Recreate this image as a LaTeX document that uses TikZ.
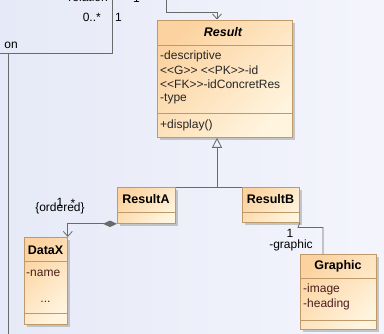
\documentclass[tikz,border=0pt]{standalone}
\usepackage{fontspec}
\setmainfont{Liberation Sans}
\usetikzlibrary{arrows.meta,shadows}
\definecolor{bgL}{HTML}{E6E9F7}
\definecolor{bgR}{HTML}{F4F5FC}
\definecolor{boxA}{HTML}{FCD3A0}
\definecolor{boxB}{HTML}{FFF4DE}
\definecolor{boxline}{HTML}{BE9A6A}
\definecolor{conn}{HTML}{6A6A6A}
\definecolor{attrc}{HTML}{4A1E1E}
\definecolor{attrr}{HTML}{262626}
\tikzset{
  cls/.style={draw=boxline, line width=0.8pt, top color=boxA, bottom color=boxB,
    shading angle=45, inner sep=0pt, anchor=north west,
    drop shadow={shadow xshift=2.5pt, shadow yshift=-2.5pt, fill=black!30, opacity=0.7}},
  sepl/.style={draw=boxline, line width=0.8pt},
  ttl/.style={font=\fontsize{12.5}{14}\selectfont\bfseries, inner sep=0pt},
  attr/.style={font=\fontsize{12}{14}\selectfont, text=attrc, inner sep=0pt, anchor=west},
  rattr/.style={font=\fontsize{12}{14}\selectfont, text=attrr, inner sep=0pt, anchor=west},
  lbl/.style={font=\fontsize{12}{14}\selectfont, inner sep=0pt},
  conline/.style={draw=conn, line width=0.8pt},
  openv/.style={-{Straight Barb[length=5pt,width=9pt]}},
}
\begin{document}
\begin{tikzpicture}[x=1pt,y=-1pt]
\useasboundingbox (0,0) rectangle (384,334);
\clip (0,0) rectangle (384,334);
\shade[left color=bgL, right color=bgR] (0,0) rectangle (384,334);

% top-left partial elements
\coordinate (tlA) at (112,-3);
\coordinate (tlB) at (112,53);
\coordinate (tlC) at (-3,53);
\coordinate (frTop) at (8,53);
\coordinate (frBot) at (8,337);
\draw[conline] (tlA) -- (tlB) -- (tlC);
\draw[conline] (frTop) -- (frBot);
\node[lbl, anchor=base east] (relt) at (108,1.5) {relation};
\node[lbl, anchor=base west] (relone) at (133,3) {1};
\node[lbl, anchor=base east] (mzero) at (101,22) {0..*};
\node[lbl, anchor=base west] (mone) at (115,22) {1};
\node[lbl, anchor=base east] (onl) at (18,49) {on};

% Result class
\node[cls, minimum width=135pt, minimum height=117pt] (result) at (157,20) {};
\draw[sepl] (157,45) -- (292,45);
\draw[sepl] (157,113) -- (292,113);
\node[ttl, font=\fontsize{12.5}{14}\selectfont\bfseries\itshape] (resultT) at (223,32) {Result};
\node[rattr] (ra1) at (160,56) {-descriptive};
\node[rattr] (ra2) at (160,70) {<{}<G>{}> <{}<PK>{}>-id};
\node[rattr] (ra3) at (160,84.5) {<{}<FK>{}>-idConcretRes};
\node[rattr] (ra4) at (160,99) {-type};
\node[rattr] (rop) at (160,125) {+display()};

% ResultA
\node[cls, minimum width=58pt, minimum height=36pt] (resA) at (117,187) {};
\draw[sepl] (117,212) -- (175,212);
\node[ttl] (resAT) at (146,199) {ResultA};

% ResultB
\node[cls, minimum width=57pt, minimum height=35pt] (resB) at (242,187) {};
\draw[sepl] (242,212) -- (299,212);
\node[ttl] (resBT) at (270.5,199) {ResultB};

% DataX
\node[cls, minimum width=43pt, minimum height=87pt] (datax) at (24,237) {};
\draw[sepl] (24,261) -- (67,261);
\draw[sepl] (24,313) -- (67,313);
\node[ttl] (dataxT) at (45.5,250) {DataX};
\node[attr] (dx1) at (26,273) {-name};
\node[lbl, text=attrc] (dx2) at (45.5,302) {...};

% Graphic
\node[cls, minimum width=76pt, minimum height=75pt] (graphic) at (300,254) {};
\draw[sepl] (300,278) -- (376,278);
\draw[sepl] (300,320) -- (376,320);
\node[ttl] (graphicT) at (338,266) {Graphic};
\node[attr] (g1) at (303,289.5) {-image};
\node[attr] (g2) at (303,304) {-heading};

% top connector into Result
\coordinate (topin) at (166,-3);
\draw[conline, openv] (topin) -- (166,12) -- (217,12) -- (217,19.5);

% generalization
\coordinate (gj) at (217,187);
\draw[conline] (resA.north east) -- (resB.north west);
\draw[conline, -{Triangle[open, length=10pt, width=10pt]}] (gj) -- (gj |- result.south);

% composition ResultA -> DataX
\draw[conline, {Diamond[length=14pt, width=6.5pt, fill=conn]}-{Straight Barb[length=5pt,width=9pt]}]
  (resA.south west) -- (resA.south west -| datax.north east) -- (datax.north east);
\node[lbl] (ordl) at (60,208) {\{ordered\}};
\node[lbl, anchor=base] (compone) at (60,207) {1};
\node[lbl, anchor=base] (compstar) at (73,208) {*};

% association ResultB -> Graphic
\draw[conline] (resB.south east) -- (298,227.5) -- (323,227.5) -- (323,254);
\node[lbl, anchor=base] (asone) at (290,238) {1};
\node[lbl] (asrole) at (291,245) {-graphic};
\end{tikzpicture}
\end{document}
